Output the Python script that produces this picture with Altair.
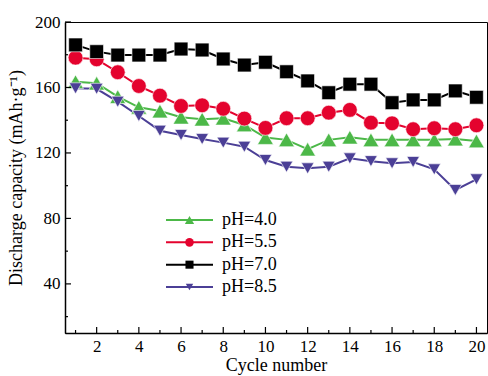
import altair as alt
import pandas as pd

# Discharge capacity over 20 cycles for four synthesis pH values
cycles = list(range(1, 21))
cap_ph40 = [163.5, 162.6, 154.4, 147.9, 145.6, 141.8, 140.6, 141.2, 137.1, 129.4,
            128.0, 122.3, 128.0, 129.6, 128.0, 128.0, 128.0, 128.0, 128.5, 127.3]
cap_ph55 = [178.2, 177.2, 169.3, 160.9, 155.0, 148.7, 149.1, 147.0, 141.0, 135.3,
            141.2, 141.2, 144.6, 146.3, 138.5, 138.1, 134.5, 135.1, 134.5, 136.9]
cap_ph70 = [186.0, 181.9, 179.8, 179.8, 179.8, 183.5, 182.9, 177.4, 173.7, 175.4,
            169.6, 164.0, 156.8, 162.0, 162.0, 150.7, 152.4, 152.4, 157.9, 154.0]
cap_ph85 = [159.5, 159.2, 151.3, 142.6, 133.6, 131.0, 128.5, 126.3, 123.8, 115.7,
            111.6, 110.6, 111.6, 116.7, 115.0, 113.7, 114.5, 110.0, 97.4, 103.9]

series_labels = ["pH=4.0", "pH=5.5", "pH=7.0", "pH=8.5"]
series_colors = ["#4cb848", "#e4032e", "#000000", "#4b3f96"]
series_shapes = ["triangle-up", "circle", "square", "triangle-down"]
series_sizes = [250, 160, 130, 250]
legend_sizes = [85, 55, 50, 85]

x_major = [2, 4, 6, 8, 10, 12, 14, 16, 18, 20]
x_minor = [1, 3, 5, 7, 9, 11, 13, 15, 17, 19]
y_major = [40, 80, 120, 160, 200]
y_minor = [20, 60, 100, 140, 180]

W, H = 422, 311
FONT = "Liberation Serif"

rows = []
for label, vals in zip(series_labels, [cap_ph40, cap_ph55, cap_ph70, cap_ph85]):
    for c, v in zip(cycles, vals):
        rows.append({"cycle": c, "capacity": v, "series": label})
df = pd.DataFrame(rows)

xscale = alt.Scale(domain=[0.5, 20.5], nice=False, zero=False)
yscale = alt.Scale(domain=[10, 200], nice=False, zero=False)
color = alt.Color("series:N", scale=alt.Scale(domain=series_labels, range=series_colors), legend=None)
fill = alt.Fill("series:N", scale=alt.Scale(domain=series_labels, range=series_colors), legend=None)
shape = alt.Shape("series:N", scale=alt.Scale(domain=series_labels, range=series_shapes), legend=None)
size = alt.Size("series:N", scale=alt.Scale(domain=series_labels, range=series_sizes), legend=None)

X = alt.X("cycle:Q", scale=xscale,
          axis=alt.Axis(values=x_major, title="Cycle number", labelPadding=5, titlePadding=2))
Y = alt.Y("capacity:Q", scale=yscale,
          axis=alt.Axis(values=y_major, title="Discharge capacity (mAh\u00b7g\u207b\u00b9)",
                        labelPadding=5, titlePadding=9))

lines = alt.Chart(df).mark_line(strokeWidth=2).encode(x=X, y=Y, color=color)
points = alt.Chart(df).mark_point(filled=True, opacity=1, stroke="white", strokeWidth=0.6).encode(
    x="cycle:Q", y="capacity:Q", fill=fill, shape=shape, size=size)

# inward tick marks
xmaj = alt.Chart(pd.DataFrame({"v": x_major})).mark_rule(color="black", strokeWidth=1.2).encode(
    x=alt.X("v:Q", scale=xscale), y=alt.value(H), y2=alt.value(H - 6))
xmin = alt.Chart(pd.DataFrame({"v": x_minor})).mark_rule(color="black", strokeWidth=1.2).encode(
    x=alt.X("v:Q", scale=xscale), y=alt.value(H), y2=alt.value(H - 3))
ymaj = alt.Chart(pd.DataFrame({"v": y_major})).mark_rule(color="black", strokeWidth=1.2).encode(
    y=alt.Y("v:Q", scale=yscale), x=alt.value(0), x2=alt.value(6))
ymin = alt.Chart(pd.DataFrame({"v": y_minor})).mark_rule(color="black", strokeWidth=1.2).encode(
    y=alt.Y("v:Q", scale=yscale), x=alt.value(0), x2=alt.value(3))

main = alt.layer(lines, points, xmaj, xmin, ymaj, ymin)

# legend block
leg_df = pd.DataFrame({"series": series_labels})
ly = alt.Y("series:N", scale=alt.Scale(type="point", domain=series_labels, range=[198, 265], padding=0), axis=None)
leg_line = alt.Chart(leg_df).mark_rule(strokeWidth=2).encode(
    x=alt.value(101), x2=alt.value(148), y=ly, color=color)
leg_pt = alt.Chart(leg_df).mark_point(filled=True, opacity=1).encode(
    x=alt.value(124.5), y=ly, fill=fill, shape=shape,
    size=alt.Size("series:N", scale=alt.Scale(domain=series_labels, range=legend_sizes), legend=None))
leg_txt = alt.Chart(leg_df).mark_text(align="left", baseline="middle", font=FONT, fontSize=18, color="black").encode(
    x=alt.value(157), y=ly, text="series:N")
legend = alt.layer(leg_line, leg_pt, leg_txt).resolve_scale(size="independent")

chart = alt.layer(main, legend).resolve_scale(y="independent", size="independent").properties(
    width=W, height=H,
    autosize=alt.AutoSizeParams(type="none"),
    padding={"left": 65, "top": 22, "right": 1, "bottom": 43},
).configure_view(stroke="black", strokeWidth=1).configure_axis(
    grid=False, ticks=False, domainColor="black", domainWidth=1.5,
    labelFont=FONT, labelFontSize=17, labelColor="black",
    titleFont=FONT, titleFontSize=18, titleFontWeight="normal", titleColor="black",
)

chart.save("out.html", embed_options={"renderer": "svg", "actions": False})
